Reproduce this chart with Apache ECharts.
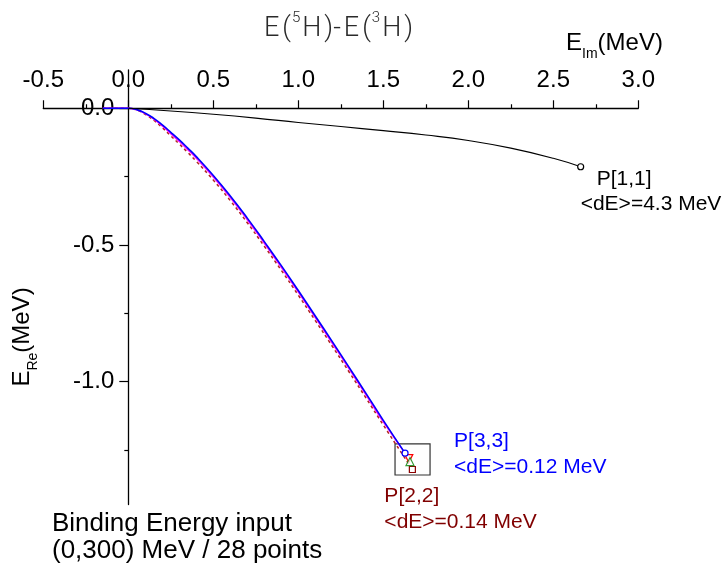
<!DOCTYPE html>
<html>
<head>
<meta charset="utf-8">
<script src="https://cdn.jsdelivr.net/npm/echarts@6/dist/echarts.min.js"></script>
<style>
  html, body { margin: 0; padding: 0; background: #ffffff; }
  #chart { width: 725px; height: 578px; }
</style>
</head>
<body>
<div id="chart"></div>
<script>
// Pole trajectories of E(5H)-E(3H) in the complex energy plane (MeV)

// axis ticks
const xMajorTicks = [-0.5, 0.0, 0.5, 1.0, 1.5, 2.0, 2.5, 3.0];
const xMinorTicks = [-0.25, 0.25, 0.75, 1.25, 1.75, 2.25, 2.75];
const yMajorTicks = [0.0, -0.5, -1.0];
const yMinorTicks = [-0.25, -0.75, -1.25];

// P[1,1]
const p11Im = [0, 0.25, 0.5, 0.75, 1.0, 1.25, 1.5, 1.75, 2.0, 2.25, 2.5, 2.661];
const p11Re = [0, -0.010, -0.022, -0.036, -0.052, -0.067, -0.082, -0.098, -0.118, -0.146, -0.183, -0.214];

// P[3,3]
const p33Im = [-0.15, 0, 0.05, 0.1, 0.15, 0.2, 0.25, 0.3, 0.35, 0.4, 0.5, 0.6, 0.7, 0.8, 0.9, 1.0, 1.1, 1.2, 1.3, 1.4, 1.5, 1.628];
const p33Re = [0, 0, -0.005, -0.018, -0.037, -0.061, -0.088, -0.116, -0.146, -0.177, -0.246, -0.321, -0.402, -0.488, -0.576, -0.667, -0.760, -0.854, -0.949, -1.045, -1.142, -1.262];

// intermediate trajectory (magenta)
const pMidIm = [-0.15, 0, 0.05, 0.1, 0.15, 0.2, 0.25, 0.3, 0.35, 0.4, 0.5, 0.6, 0.7, 0.8, 0.9, 1.0, 1.1, 1.2, 1.3, 1.4, 1.5, 1.65];
const pMidRe = [0, 0, -0.006, -0.020, -0.040, -0.065, -0.093, -0.122, -0.152, -0.183, -0.252, -0.327, -0.408, -0.494, -0.582, -0.673, -0.766, -0.860, -0.955, -1.051, -1.148, -1.282];

// P[2,2]
const p22Im = [-0.15, 0, 0.05, 0.1, 0.15, 0.2, 0.25, 0.3, 0.35, 0.4, 0.5, 0.6, 0.7, 0.8, 0.9, 1.0, 1.1, 1.2, 1.3, 1.4, 1.5, 1.671];
const p22Re = [0, 0, -0.007, -0.022, -0.044, -0.071, -0.101, -0.131, -0.162, -0.194, -0.263, -0.338, -0.419, -0.505, -0.593, -0.684, -0.777, -0.871, -0.966, -1.062, -1.159, -1.322];

// end point of the green trajectory
const greenEndIm = [1.657];
const greenEndRe = [-1.293];

// frame around the end points
const boxIm = [1.569, 1.775];
const boxRe = [-1.228, -1.342];

const FONT = '"Liberation Sans", Arial, sans-serif';
const X_MIN = -0.5, X_MAX = 3.0, Y_MIN = -1.45, Y_MAX = 0.14;
const GRID = { left: 43.3, top: 70, width: 595, height: 434.5 };
// the axes cross at the origin
const yAxisShift = -(0 - X_MIN) / (X_MAX - X_MIN) * GRID.width;
const xAxisShift = -(Y_MAX - 0) / (Y_MAX - Y_MIN) * GRID.height;

const zip = (a, b) => a.map((v, i) => [v, b[i]]);
const fmt = v => v.toFixed(1);

const chart = echarts.init(document.getElementById('chart'), null, { renderer: 'canvas' });

function endMarker(arr, symbol, size, color, rotate) {
  // only the last point carries a marker
  return arr.map((p, i) => i === arr.length - 1
    ? { value: p, symbol: symbol, symbolSize: size, symbolRotate: rotate || 0,
        itemStyle: { color: '#ffffff', borderColor: color, borderWidth: 1.2 } }
    : { value: p, symbol: 'none' });
}

function xAxisDef(ticks, len, withLabels) {
  return {
    type: 'value', position: 'top', min: X_MIN, max: X_MAX, offset: xAxisShift,
    axisLine: { show: withLabels, onZero: false, lineStyle: { color: '#000', width: 1.3 } },
    axisTick: { show: true, customValues: ticks, length: len, lineStyle: { color: '#000', width: 1.2 } },
    axisLabel: { show: withLabels, customValues: ticks, formatter: fmt, margin: 16,
                 color: '#000', fontSize: 24, fontFamily: FONT },
    splitLine: { show: false }
  };
}
function yAxisDef(ticks, len, withLabels) {
  return {
    type: 'value', position: 'left', min: Y_MIN, max: Y_MAX, offset: yAxisShift,
    axisLine: { show: withLabels, onZero: false, lineStyle: { color: '#000', width: 1.3 } },
    axisTick: { show: true, customValues: ticks, length: len, lineStyle: { color: '#000', width: 1.2 } },
    axisLabel: { show: withLabels, customValues: ticks, formatter: fmt, margin: 14,
                 color: '#000', fontSize: 24, fontFamily: FONT },
    splitLine: { show: false }
  };
}

const option = {
  animation: false,
  backgroundColor: '#ffffff',
  grid: Object.assign({ containLabel: false, outerBoundsMode: 'none' }, GRID),
  xAxis: [xAxisDef(xMajorTicks, 8, true), xAxisDef(xMinorTicks, 4, false)],
  yAxis: [yAxisDef(yMajorTicks, 9, true), yAxisDef(yMinorTicks, 4, false)],
  series: [
    {
      name: 'P[2,2]', type: 'line', data: endMarker(zip(p22Im, p22Re), 'rect', 6, '#8b0000'),
      smooth: 0.5, z: 2,
      lineStyle: { color: '#b22222', width: 1.5, type: [3, 3] }
    },
    {
      name: 'mid', type: 'line', data: endMarker(zip(pMidIm, pMidRe), 'triangle', 8, '#ff0000', 180),
      smooth: 0.5, z: 3,
      lineStyle: { color: '#ff00ff', width: 1.3 }
    },
    {
      name: 'green', type: 'scatter', data: zip(greenEndIm, greenEndRe),
      symbol: 'triangle', symbolSize: 8, z: 4,
      itemStyle: { color: '#ffffff', borderColor: '#008000', borderWidth: 1.2 }
    },
    {
      name: 'P[3,3]', type: 'line', data: endMarker(zip(p33Im, p33Re), 'circle', 6, '#0000ff'),
      smooth: 0.5, z: 5,
      lineStyle: { color: '#0000ff', width: 1.6 },
      markArea: {
        silent: true,
        itemStyle: { color: 'rgba(0,0,0,0)', borderColor: '#333', borderWidth: 1.2 },
        data: [[{ coord: [boxIm[0], boxRe[0]] }, { coord: [boxIm[1], boxRe[1]] }]]
      }
    },
    {
      name: 'P[1,1]', type: 'line', data: endMarker(zip(p11Im, p11Re), 'circle', 6, '#000000'),
      smooth: 0.5, z: 5,
      lineStyle: { color: '#000000', width: 1.1 }
    }
  ]
};

chart.setOption(option);

// text placed relative to the trajectory end points
function px(im, re) { return chart.convertToPixel({ gridIndex: 0 }, [im, re]); }
const e11 = px(p11Im[p11Im.length - 1], p11Re[p11Re.length - 1]);
const e33 = px(p33Im[p33Im.length - 1], p33Re[p33Re.length - 1]);
const e22 = px(p22Im[p22Im.length - 1], p22Re[p22Re.length - 1]);

function txt(x, y, text, color, size) {
  return {
    type: 'text', x: x, y: y, silent: true,
    style: { text: text, fill: color, font: (size || 21) + 'px ' + FONT, textAlign: 'left', textVerticalAlign: 'middle' }
  };
}

const subRich = {
  m: { fontSize: 24, fontFamily: FONT, fill: '#000', lineHeight: 27, verticalAlign: 'top' },
  s: { fontSize: 14, fontFamily: FONT, fill: '#000', lineHeight: 14, verticalAlign: 'top', padding: [16, 0, 0, 0] }
};

chart.setOption({
  graphic: [
    txt(e11[0] + 16, e11[1] + 12, 'P[1,1]', '#000'),
    txt(e11[0] + 0, e11[1] + 37, '<dE>=4.3 MeV', '#000'),
    txt(e33[0] + 49, e33[1] - 12, 'P[3,3]', '#0000ff'),
    txt(e33[0] + 49, e33[1] + 14, '<dE>=0.12 MeV', '#0000ff'),
    txt(e22[0] - 28, e22[1] + 27, 'P[2,2]', '#800000'),
    txt(e22[0] - 28, e22[1] + 53, '<dE>=0.14 MeV', '#800000'),
    txt(52, 524, 'Binding Energy input', '#000', 26),
    txt(52, 551, '(0,300) MeV / 28 points', '#000', 26),
    {
      type: 'text', x: 338, y: 27, silent: true,
      style: {
        text: '{t|E}{p|(}{s|5}{t|H}{p|)-}{t|E}{p|(}{s|3}{t|H}{p|)}',
        textAlign: 'center', textVerticalAlign: 'middle',
        rich: {
          t: { fontSize: 27, fontFamily: 'Roboto', fontWeight: 300, fill: '#2a2a2a', lineHeight: 32, verticalAlign: 'bottom', padding: [0, 2, 0, 2] },
          p: { fontSize: 27, fontFamily: 'Roboto', fontWeight: 300, fill: '#2a2a2a', lineHeight: 32, verticalAlign: 'bottom', padding: [0, 1, 0, 1] },
          s: { fontSize: 15, fontFamily: 'Roboto', fontWeight: 300, fill: '#2a2a2a', lineHeight: 32, verticalAlign: 'top', padding: [0, 0, 0, 0] }
        }
      }
    },
    {
      type: 'text', x: 566, y: 45, silent: true,
      style: { text: '{m|E}{s|Im}{m|(MeV)}', textAlign: 'left', textVerticalAlign: 'middle', rich: subRich }
    },
    {
      type: 'text', x: 24, y: 337, rotation: Math.PI / 2, silent: true,
      style: { text: '{m|E}{s|Re}{m|(MeV)}', textAlign: 'center', textVerticalAlign: 'middle', rich: subRich }
    }
  ]
});
</script>
</body>
</html>
